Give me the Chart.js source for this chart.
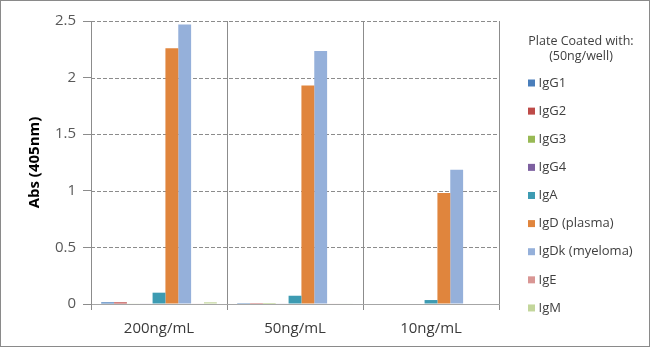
<!DOCTYPE html>
<html>
<head>
<meta charset="utf-8">
<script src="https://cdn.jsdelivr.net/npm/chart.js@4.4.1/dist/chart.umd.min.js"></script>
<style>
    html, body { margin: 0; padding: 0; background: #ffffff; }
    .chart-box {
        position: relative;
        width: 650px;
        height: 347px;
        box-sizing: border-box;
        border: 1px solid #8a8a8a;
        background: #ffffff;
    }
    .chart-box canvas { display: block; }
</style>
</head>
<body>
<div class="chart-box">
    <canvas id="abs-chart" width="648" height="345"></canvas>
</div>
<script>
// 카테고리(농도)와 시리즈 데이터
const categories = ['200ng/mL', '50ng/mL', '10ng/mL'];
const seriesNames = ['IgG1', 'IgG2', 'IgG3', 'IgG4', 'IgA', 'IgD (plasma)', 'IgDk (myeloma)', 'IgE', 'IgM'];

const igG1 = [0.015, 0.008, 0];
const igG2 = [0.015, 0.008, 0];
const igG3 = [0.005, 0.008, 0];
const igG4 = [0.005, 0.005, 0];
const igA = [0.10, 0.073, 0.035];
const igDPlasma = [2.26, 1.93, 0.98];
const igDkMyeloma = [2.47, 2.235, 1.185];
const igE = [0.005, 0.005, 0];
const igM = [0.015, 0.005, 0];

const yTicks = [0, 0.5, 1, 1.5, 2, 2.5];

const seriesValues = [igG1, igG2, igG3, igG4, igA, igDPlasma, igDkMyeloma, igE, igM];
const seriesColors = ['#4a7ebb', '#be4b48', '#98b954', '#7d60a0', '#3d9bb2', '#e0853d', '#95b0da', '#d99694', '#c3d69b'];

// 가로 점선 그리드 (y 스케일 값 기준)
const dashedGrid = {
    id: 'dashedGrid',
    beforeDatasetsDraw(chart) {
        const { ctx, chartArea, scales } = chart;
        ctx.save();
        ctx.strokeStyle = '#8c8c8c';
        ctx.lineWidth = 1;
        ctx.setLineDash([4, 2]);
        yTicks.forEach(v => {
            if (v === 0) return;
            const y = Math.round(scales.y.getPixelForValue(v)) + 0.5;
            ctx.beginPath();
            ctx.moveTo(chartArea.left, y);
            ctx.lineTo(chartArea.right, y);
            ctx.stroke();
        });
        ctx.restore();
    }
};

// 오른쪽 범례를 직접 그리는 플러그인
const sideLegend = {
    id: 'sideLegend',
    afterDraw(chart) {
        const ctx = chart.ctx;
        ctx.save();
        ctx.fillStyle = '#404040';
        ctx.textBaseline = 'middle';

        // 1. 범례 제목 (두 줄)
        ctx.font = '12.5px "Open Sans"';
        ctx.textAlign = 'center';
        ctx.fillText('Plate Coated with:', 580, 40.7);
        ctx.fillText('(50ng/well)', 580, 55.7);

        // 2. 항목들
        ctx.font = '13px "Open Sans"';
        ctx.textAlign = 'left';
        chart.data.datasets.forEach((ds, i) => {
            const y = 82 + i * 28.12;
            ctx.fillStyle = ds.backgroundColor;
            ctx.fillRect(527, y - 3.5, 7, 7);
            ctx.fillStyle = '#404040';
            ctx.fillText(ds.label, 537.5, y);
        });
        ctx.restore();
    }
};

const ctx = document.getElementById('abs-chart').getContext('2d');

new Chart(ctx, {
    type: 'bar',
    data: {
        labels: categories,
        datasets: seriesNames.map((name, i) => ({
            label: name,
            data: seriesValues[i],
            backgroundColor: seriesColors[i],
            borderWidth: 0,
            barPercentage: 1.0,
            categoryPercentage: 0.85
        }))
    },
    options: {
        responsive: false,
        animation: false,
        layout: {
            padding: { left: 0, right: 150, top: 20, bottom: 0 }
        },
        plugins: {
            legend: { display: false },
            tooltip: { enabled: false }
        },
        scales: {
            x: {
                afterFit: scale => { scale.height = 42; },
                grid: {
                    offset: true,
                    color: '#8c8c8c',
                    lineWidth: 1,
                    tickLength: 6,
                    drawOnChartArea: true
                },
                border: { color: '#a6a6a6', width: 1 },
                ticks: {
                    padding: 10,
                    color: '#3a3a3a',
                    font: { family: 'Open Sans', size: 15 }
                }
            },
            y: {
                min: 0,
                max: 2.5,
                afterFit: scale => { scale.width = 90; },
                afterBuildTicks: scale => {
                    scale.ticks = yTicks.map(v => ({ value: v }));
                },
                grid: {
                    color: '#8c8c8c',
                    lineWidth: 1,
                    tickLength: 8,
                    drawOnChartArea: false
                },
                border: { color: '#8c8c8c', width: 1 },
                ticks: {
                    padding: 7,
                    color: '#595959',
                    font: { family: 'Open Sans', size: 15 },
                    callback: value => String(value)
                },
                title: {
                    display: true,
                    text: 'Abs (405nm)',
                    color: '#000000',
                    padding: { top: 25, bottom: 0 },
                    font: { family: 'Open Sans', size: 15, weight: 'bold' }
                }
            }
        }
    },
    plugins: [dashedGrid, sideLegend]
});
</script>
</body>
</html>
